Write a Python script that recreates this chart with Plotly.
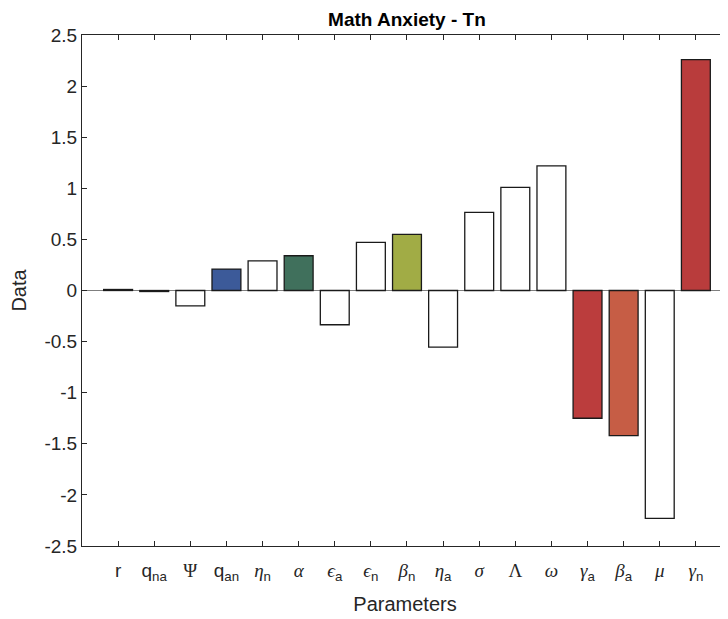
import plotly.graph_objects as go

params = ["r", "qna", "Psi", "qan", "eta_n", "alpha", "eps_a", "eps_n", "beta_n",
          "eta_a", "sigma", "Lambda", "omega", "gamma_a", "beta_a", "mu", "gamma_n"]
tick_labels = [
    "r",
    "q<sub>na</sub>",
    "<span style='font-family:Liberation Serif'>Ψ</span>",
    "q<sub>an</sub>",
    "<span style='font-family:Liberation Serif'><i>η</i></span><sub>n</sub>",
    "<span style='font-family:Liberation Serif'><i>α</i></span>",
    "<span style='font-family:Liberation Serif'><i>ϵ</i></span><sub>a</sub>",
    "<span style='font-family:Liberation Serif'><i>ϵ</i></span><sub>n</sub>",
    "<span style='font-family:Liberation Serif'><i>β</i></span><sub>n</sub>",
    "<span style='font-family:Liberation Serif'><i>η</i></span><sub>a</sub>",
    "<span style='font-family:Liberation Serif'><i>σ</i></span>",
    "<span style='font-family:Liberation Serif'>Λ</span>",
    "<span style='font-family:Liberation Serif'><i>ω</i></span>",
    "<span style='font-family:Liberation Serif'><i>γ</i></span><sub>a</sub>",
    "<span style='font-family:Liberation Serif'><i>β</i></span><sub>a</sub>",
    "<span style='font-family:Liberation Serif'><i>μ</i></span>",
    "<span style='font-family:Liberation Serif'><i>γ</i></span><sub>n</sub>",
]
values = [0.01, -0.01, -0.15, 0.21, 0.29, 0.34, -0.335, 0.47, 0.55,
          -0.555, 0.765, 1.01, 1.22, -1.25, -1.42, -2.23, 2.26]
bar_colors = ["#ffffff", "#ffffff", "#ffffff", "#3c5a99", "#ffffff", "#40705c",
              "#ffffff", "#ffffff", "#a1ac45", "#ffffff", "#ffffff", "#ffffff",
              "#ffffff", "#bb3d3d", "#c65d45", "#ffffff", "#b93c3c"]

x_pos = list(range(1, len(values) + 1))

fig = go.Figure()
fig.add_trace(go.Bar(
    x=x_pos, y=values, width=0.8,
    marker=dict(color=bar_colors, line=dict(color="#1a1a1a", width=1.3)),
    hoverinfo="skip",
))

axis_color = "#262626"
fig.update_layout(
    width=720, height=611,
    margin=dict(l=74, r=0, t=27, b=73, autoexpand=False),
    paper_bgcolor="white", plot_bgcolor="white",
    font=dict(family="Liberation Sans, Arial, sans-serif", size=19, color=axis_color),
    showlegend=False,
    title=dict(text="<b>Math Anxiety - Tn</b>", x=0.503, xanchor="center",
               xref="paper", y=1, yref="container", yanchor="top", pad=dict(t=5),
               font=dict(size=19, color="#000000")),
    xaxis=dict(
        range=[0, 17.89], tickmode="array", tickvals=x_pos, ticktext=tick_labels,
        ticks="inside", ticklen=5, tickcolor=axis_color, tickwidth=1,
        showline=True, linecolor=axis_color, linewidth=1, mirror="ticks",
        showgrid=False, zeroline=False, automargin=False, ticklabelstandoff=7,
        title=dict(text="Parameters", font=dict(size=20), standoff=14),
        tickfont=dict(size=19),
    ),
    yaxis=dict(
        range=[-2.5, 2.5], tickmode="array",
        tickvals=[-2.5, -2, -1.5, -1, -0.5, 0, 0.5, 1, 1.5, 2, 2.5],
        ticktext=["-2.5", "-2", "-1.5", "-1", "-0.5", "0", "0.5", "1", "1.5", "2", "2.5"],
        ticks="inside", ticklen=5, tickcolor=axis_color, tickwidth=1,
        showline=True, linecolor=axis_color, linewidth=1,
        showgrid=False, zeroline=True, zerolinecolor="#7f7f7f", zerolinewidth=1.3,
        automargin=False,
        title=dict(text="Data", font=dict(size=20), standoff=12),
        tickfont=dict(size=19),
    ),
)

fig.write_html("out.html")
